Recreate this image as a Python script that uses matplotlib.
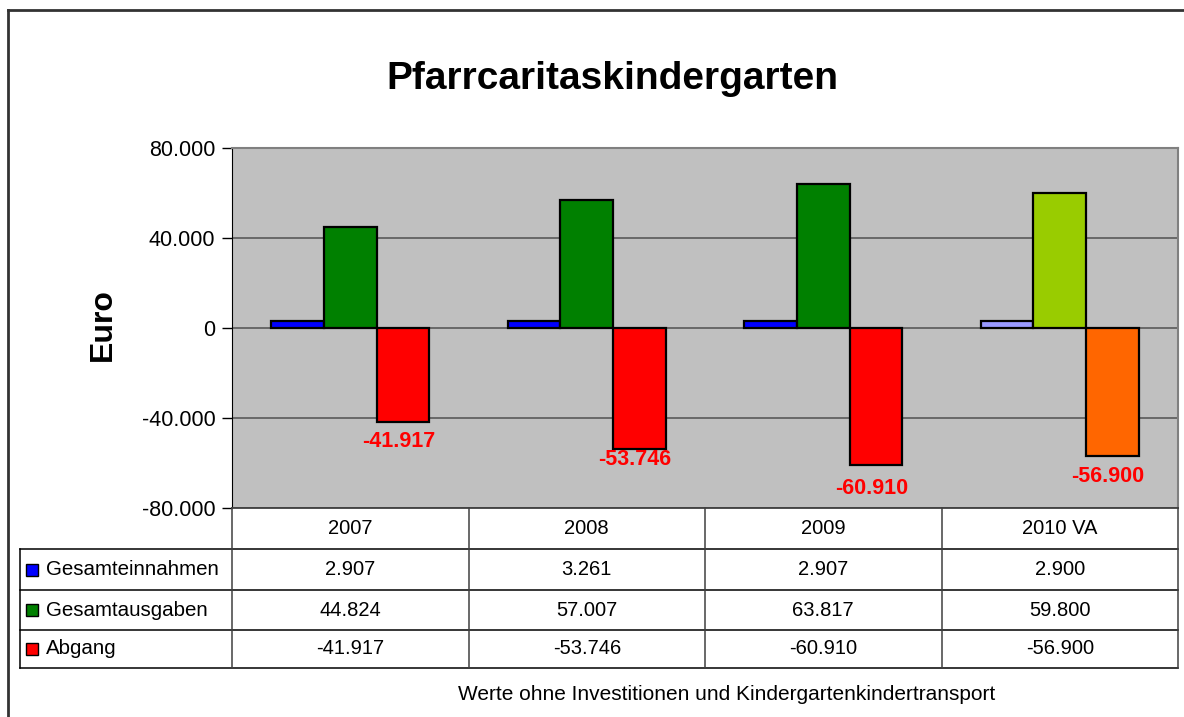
import matplotlib
matplotlib.use("Agg")
import matplotlib.pyplot as plt
from matplotlib.lines import Line2D
from matplotlib.patches import Rectangle
from matplotlib.ticker import FuncFormatter
import numpy as np

plt.rcParams['font.family'] = ['Liberation Sans', 'DejaVu Sans']

# data
years = ["2007", "2008", "2009", "2010 VA"]
series_names = ["Gesamteinnahmen", "Gesamtausgaben", "Abgang"]
einnahmen = [2907, 3261, 2907, 2900]
ausgaben = [44824, 57007, 63817, 59800]
abgang = [-41917, -53746, -60910, -56900]
yticks = [-80000, -40000, 0, 40000, 80000]

# colours, last year is a forecast (VA) and drawn in other colours
col_ein = ["#0000FF"] * 3 + ["#9999FF"]
col_aus = ["#008000"] * 3 + ["#99CC00"]
col_abg = ["#FF0000"] * 3 + ["#FF6600"]
legend_cols = ["#0000FF", "#008000", "#FF0000"]
label_dy = [19, 11, 23, 20]  # px below bar end

W, H = 1184, 717
fig = plt.figure(figsize=(W / 100, H / 100), dpi=100)


def fx(x):
    return x / W


def fy(y):
    return 1 - y / H


def fline(x0, y0, x1, y1, color="black", lw=1.0):
    fig.add_artist(Line2D([fx(x0), fx(x1)], [fy(y0), fy(y1)],
                          transform=fig.transFigure, color=color, lw=lw))


left, right, top, bottom = 232, 1178, 148, 508
ax = fig.add_axes([fx(left), fy(bottom), (right - left) / W, (bottom - top) / H])
ax.set_facecolor("#C0C0C0")

x = np.arange(len(years))
w = 0.223
ax.bar(x - w, einnahmen, w, color=col_ein, edgecolor="black", lw=1.6, zorder=3)
ax.bar(x, ausgaben, w, color=col_aus, edgecolor="black", lw=1.6, zorder=3)
ax.bar(x + w, abgang, w, color=col_abg, edgecolor="black", lw=1.6, zorder=3)

for i, v in enumerate(abgang):
    ax.annotate(f"{v:,}".replace(",", "."), (x[i] + w - 0.02, v),
                xytext=(0, -label_dy[i] * 0.72), textcoords="offset points",
                ha="center", va="center", color="#FF0000",
                fontsize=15.5, fontweight="bold", zorder=4)

ax.set_xlim(-0.5, len(years) - 0.5)
ax.set_ylim(-80000, 80000)
ax.set_yticks(yticks)
ax.yaxis.set_major_formatter(FuncFormatter(lambda v, p: f"{int(v):,}".replace(",", ".")))
ax.tick_params(axis="y", labelsize=15.5, length=7, width=1, direction="out", pad=5)
ax.set_xticks([])
ax.grid(axis="y", color="#505050", lw=1.1, zorder=1)
for s in ["top", "right"]:
    ax.spines[s].set_color("#808080")
    ax.spines[s].set_linewidth(1.5)
ax.spines["left"].set_color("black")
ax.spines["bottom"].set_visible(False)

ax.set_ylabel("Euro", fontsize=23, fontweight="bold")
ax.yaxis.set_label_coords(-(left - 118) / (right - left), 0.51)

fig.text(fx(612), fy(79), "Pfarrcaritaskindergarten", ha="center", va="center",
         fontsize=28, fontweight="bold")

# data table under the chart
col_edges = np.linspace(left, right, len(years) + 1)
row_y = [508, 549, 590, 630, 668]
tab_left = 20
fline(left, 508, right, 508, "#404040", 1.3)
for yy in row_y[1:]:
    fline(tab_left, yy, right, yy, "black", 1.1)
for xx in col_edges:
    fline(xx, row_y[0], xx, row_y[-1], "#404040", 1.1)
fline(tab_left, row_y[1], tab_left, row_y[-1], "black", 1.1)

for j, yr in enumerate(years):
    cx = (col_edges[j] + col_edges[j + 1]) / 2
    fig.text(fx(cx), fy(529), yr, ha="center", va="center", fontsize=14.5)

rows = [einnahmen, ausgaben, abgang]
for r, (name, vals) in enumerate(zip(series_names, rows)):
    cy = (row_y[r + 1] + row_y[r + 2]) / 2
    fig.add_artist(Rectangle((fx(26), fy(cy + 6)), 12 / W, 12 / H,
                             transform=fig.transFigure, facecolor=legend_cols[r],
                             edgecolor="black", lw=1))
    fig.text(fx(46), fy(cy), name, ha="left", va="center", fontsize=14.8)
    for j, v in enumerate(vals):
        cx = (col_edges[j] + col_edges[j + 1]) / 2
        fig.text(fx(cx), fy(cy), f"{v:,}".replace(",", "."), ha="center",
                 va="center", fontsize=14.5)

fig.text(fx(727), fy(694), "Werte ohne Investitionen und Kindergartenkindertransport",
         ha="center", va="center", fontsize=15)

# outer frame (top and left only visible)
fline(8, 10, W, 10, "#333333", 2)
fline(8, 10, 8, H, "#333333", 2)

fig.savefig("out.png", dpi=100)
